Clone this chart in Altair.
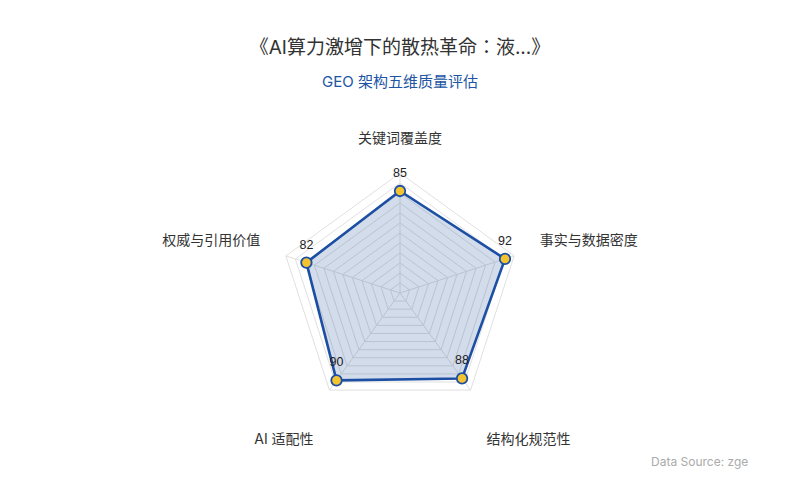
import numpy as np
import pandas as pd
import altair as alt

# ---- data ----
categories = ["关键词覆盖度", "事实与数据密度", "结构化规范性", "AI 适配性", "权威与引用价值"]
scores = [85, 92, 88, 90, 82]
max_value = 100
ring_count = 12

title_text = "《AI算力激增下的散热革命：液...》"
subtitle_text = "GEO 架构五维质量评估"
source_text = "Data Source: zge"

# ---- geometry helpers (scale: value units) ----
PX = 1.2  # pixels per value unit
W, H = 784, 484
CX, CY = 392, 285  # center in view pixels
x_dom = [-CX / PX, (W - CX) / PX]
y_dom = [-(H - CY) / PX, CY / PX]

n = len(categories)
angles = np.arange(n) * 2 * np.pi / n
sinv, cosv = np.sin(angles), np.cos(angles)

# data polygon (closed)
idx = list(range(n)) + [0]
poly = pd.DataFrame({
    "order": list(range(n + 1)),
    "x": [scores[i] * sinv[i] for i in idx],
    "y": [scores[i] * cosv[i] for i in idx],
})
pts = pd.DataFrame({
    "cat": categories,
    "score": scores,
    "x": np.array(scores) * sinv,
    "y": np.array(scores) * cosv,
})

# grid rings
rows = []
for k in range(1, ring_count + 1):
    r = max_value * k / ring_count
    for j, i in enumerate(idx):
        rows.append({"ring": k, "order": j, "x": r * sinv[i], "y": r * cosv[i]})
rings = pd.DataFrame(rows)

# spokes
srows = []
for i in range(n):
    srows.append({"spoke": i, "order": 0, "x": 0.0, "y": 0.0})
    srows.append({"spoke": i, "order": 1, "x": max_value * sinv[i], "y": max_value * cosv[i]})
spokes = pd.DataFrame(srows)

# axis name labels
name_r = 147 / PX
names = pd.DataFrame({
    "cat": categories,
    "x": name_r * sinv,
    "y": name_r * cosv + np.where(cosv < 0, -28, 7) / PX,
    "side": np.where(np.abs(sinv) < 1e-6, "c", np.where(sinv > 0, "r", "l")),
})

X = lambda: alt.X("x:Q", scale=alt.Scale(domain=x_dom, nice=False, zero=False), axis=None)
Y = lambda: alt.Y("y:Q", scale=alt.Scale(domain=y_dom, nice=False, zero=False), axis=None)

ring_layer = alt.Chart(rings).mark_line(color="#e0e0e0", strokeWidth=1).encode(
    x=X(), y=Y(), detail="ring:N", order="order:Q")
spoke_layer = alt.Chart(spokes).mark_line(color="#e0e0e0", strokeWidth=1).encode(
    x=X(), y=Y(), detail="spoke:N", order="order:Q")

fill_layer = alt.Chart(poly).mark_line(
    fill="#1f4e9c", fillOpacity=0.2, strokeOpacity=0).encode(x=X(), y=Y(), order="order:Q")
line_layer = alt.Chart(poly).mark_line(
    color="#1c4fa3", strokeWidth=2.6, strokeJoin="round").encode(x=X(), y=Y(), order="order:Q")
point_layer = alt.Chart(pts).mark_point(
    filled=True, size=110, fill="#f4c430", stroke="#1c4fa3", strokeWidth=1.8, opacity=1
).encode(x=X(), y=Y())
value_layer = alt.Chart(pts).mark_text(
    dy=-18, fontSize=12.5, color="#222222", font="Liberation Sans").encode(
    x=X(), y=Y(), text="score:Q")

name_font = "Inter, Noto Sans CJK SC"
name_layers = []
for side, align in [("c", "center"), ("r", "left"), ("l", "right")]:
    name_layers.append(
        alt.Chart(names).transform_filter(alt.datum.side == side).mark_text(
            align=align, baseline="middle", fontSize=14, color="#333333", font=name_font
        ).encode(x=X(), y=Y(), text="cat:N")
    )

title_df = pd.DataFrame({"t": [title_text]})
sub_df = pd.DataFrame({"t": [subtitle_text]})
src_df = pd.DataFrame({"t": [source_text]})

title_layer = alt.Chart(title_df).mark_text(
    fontSize=19, color="#333333", font="Inter, Noto Sans CJK JP", align="center", baseline="middle"
).encode(x=alt.value(392), y=alt.value(40), text="t:N")
sub_layer = alt.Chart(sub_df).mark_text(
    fontSize=15, color="#2154a3", font="Inter, Noto Sans CJK SC", align="center", baseline="middle"
).encode(x=alt.value(392), y=alt.value(74), text="t:N")
src_layer = alt.Chart(src_df).mark_text(
    fontSize=12, color="#aaaaaa", font="Inter, Noto Sans", align="left", baseline="middle"
).encode(x=alt.value(643), y=alt.value(454), text="t:N")

chart = alt.layer(
    ring_layer, spoke_layer, fill_layer, line_layer, point_layer, value_layer,
    *name_layers, title_layer, sub_layer, src_layer
).properties(
    width=W, height=H, padding=0, autosize=alt.AutoSizeParams(type="none"),
    background="white"
).configure_view(stroke=None)

chart.save("out.html", embed_options={"renderer": "svg", "actions": False})
